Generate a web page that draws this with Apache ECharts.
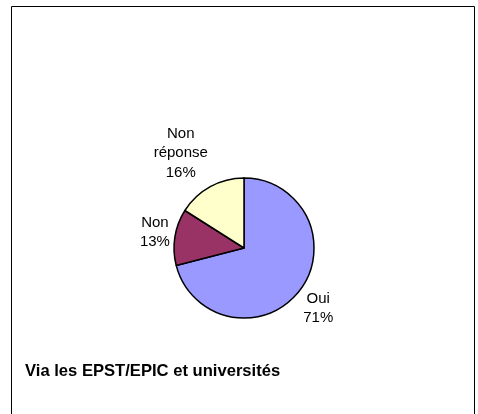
<!DOCTYPE html>
<html>
<head>
<meta charset="utf-8">
<script src="https://cdn.jsdelivr.net/npm/echarts@6/dist/echarts.min.js"></script>
<style>
  html, body { margin: 0; padding: 0; background: #fff; }
  #chart { width: 478px; height: 414px; }
</style>
</head>
<body>
<div id="chart"></div>
<script>
// parts of the pie, clockwise from 12 o'clock
const categories = ['Oui', 'Non', 'Non\nréponse']
const values = [71, 13, 16]
const colors = ['#9999ff', '#993366', '#ffffcc']

const center = [244, 248]
const radius = 70
const total = values.reduce((a, b) => a + b, 0)

// mid angle of each slice (radians, clockwise from top)
const midAngles = []
let acc = 0
values.forEach((v) => {
  midAngles.push((acc + v / 2) / total * Math.PI * 2)
  acc += v
})

const chart = echarts.init(document.getElementById('chart'))

chart.setOption({
  animation: false,
  title: {
    text: 'Via les EPST/EPIC et universités',
    left: 20,
    top: 358,
    textStyle: {
      fontFamily: 'Liberation Sans, Arial, sans-serif',
      fontSize: 16.6,
      fontWeight: 'bold',
      color: '#000'
    }
  },
  // chart frame (no bottom edge in the picture)
  graphic: [{
    type: 'rect',
    shape: { x: 11.5, y: 6.5, width: 463, height: 430 },
    style: { fill: 'none', stroke: '#000', lineWidth: 1 }
  }],
  series: [{
    type: 'pie',
    center: center,
    radius: radius,
    startAngle: 90,
    clockwise: true,
    data: categories.map((name, i) => ({
      name,
      value: values[i],
      itemStyle: { color: colors[i] }
    })),
    itemStyle: { borderColor: '#000', borderWidth: 1.5 },
    label: {
      position: 'outside',
      formatter: '{b}\n{d}%',
      fontFamily: 'Liberation Sans, Arial, sans-serif',
      fontSize: 15,
      lineHeight: 19.5,
      align: 'center',
      color: '#000'
    },
    labelLine: { show: false, length: 6, length2: 0 },
    // put each label box just outside the rim, centred text like Excel
    labelLayout: function (params) {
      const a = midAngles[params.dataIndex]
      const dx = Math.sin(a)
      const dy = -Math.cos(a)
      const hw = params.labelRect.width / 2
      const hh = params.labelRect.height / 2
      return {
        x: center[0] + dx * radius + Math.sign(dx) * hw + dx * 5,
        y: center[1] + dy * radius + dy * (hh + 9),
        align: 'center',
        verticalAlign: 'middle'
      }
    },
    emphasis: { disabled: true }
  }]
})
</script>
</body>
</html>
